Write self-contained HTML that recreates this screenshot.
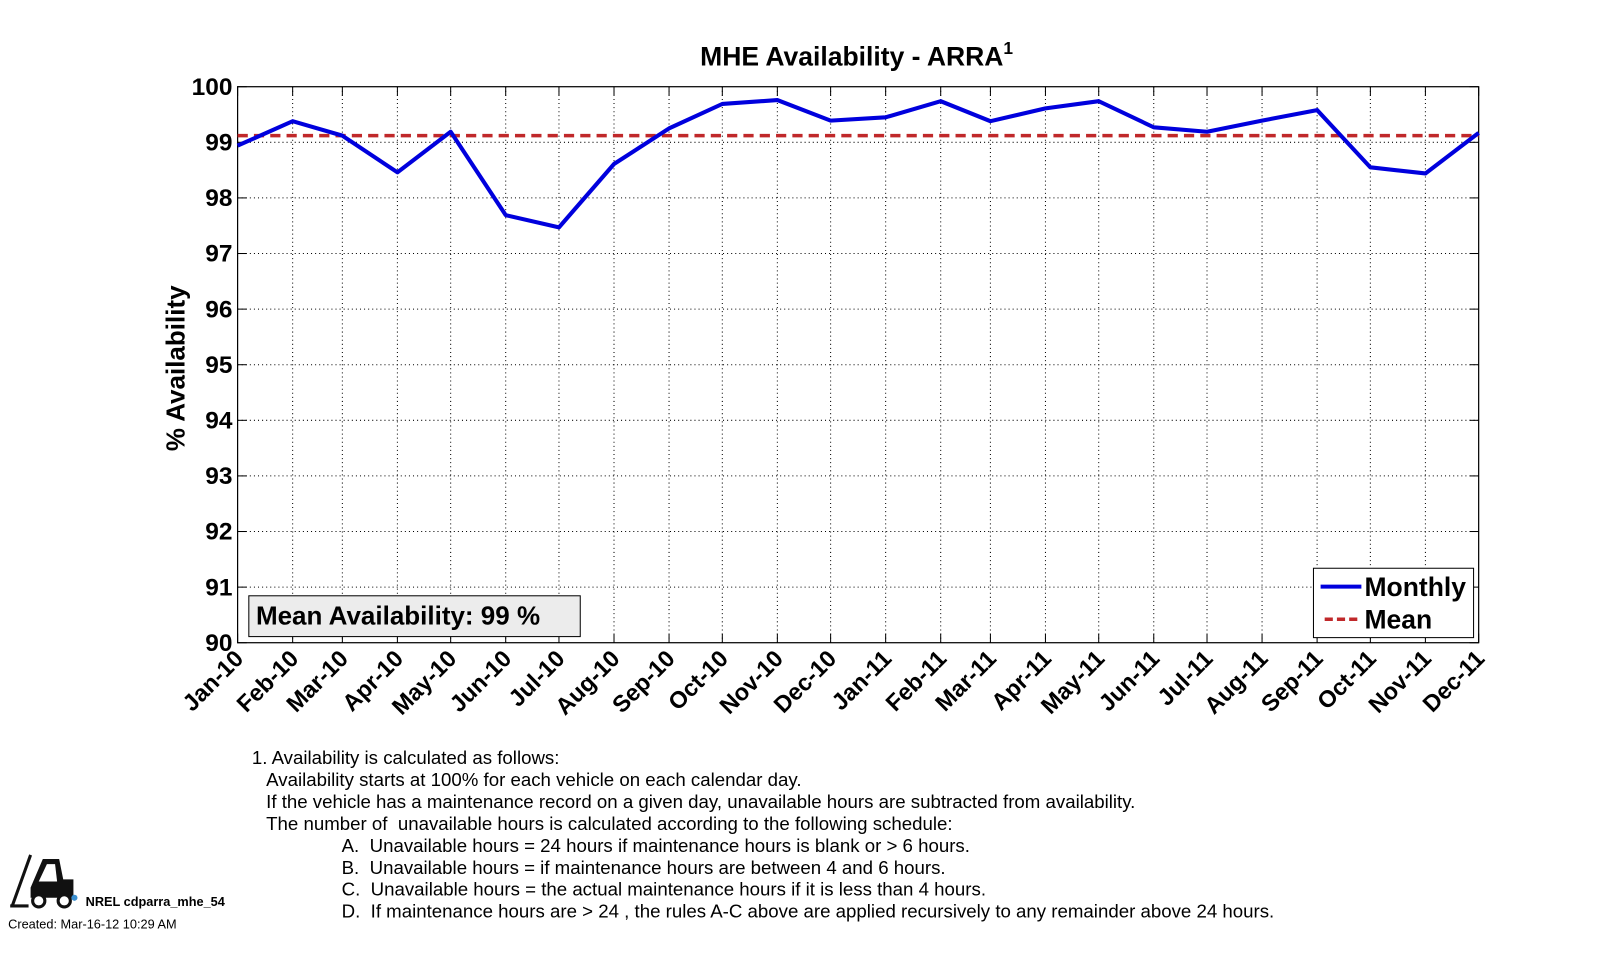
<!DOCTYPE html>
<html><head><meta charset="utf-8"><style>
html,body{margin:0;padding:0;background:#fff;}
svg{display:block;font-family:"Liberation Sans",Arial,sans-serif;}
</style></head><body>
<svg id="s" width="1599" height="960" viewBox="0 0 1568 941" preserveAspectRatio="none" xmlns="http://www.w3.org/2000/svg"></svg>
<script>
const L=233,R=1450,T=85,B=630;
const days=[0,31,59,90,120,151,181,212,243,273,304,334,365,396,424,455,485,516,546,577,608,638,669,699];
const names=["Jan-10","Feb-10","Mar-10","Apr-10","May-10","Jun-10","Jul-10","Aug-10","Sep-10","Oct-10","Nov-10","Dec-10","Jan-11","Feb-11","Mar-11","Apr-11","May-11","Jun-11","Jul-11","Aug-11","Sep-11","Oct-11","Nov-11","Dec-11"];
const vals=[98.94,99.38,99.12,98.46,99.19,97.69,97.47,98.61,99.25,99.69,99.76,99.39,99.45,99.74,99.38,99.61,99.74,99.27,99.19,99.39,99.58,98.55,98.44,99.17];
const X=d=>L+(R-L)*d/699, Y=v=>T+(100-v)*(B-T)/10;
let h='';
for(let i=1;i<23;i++){const x=X(days[i]);h+=`<line x1="${x}" y1="${T}" x2="${x}" y2="${B}" stroke="#000" stroke-width="1" stroke-dasharray="1,3"/>`;}
for(let v=91;v<100;v++){const y=Y(v);h+=`<line x1="${L}" y1="${y}" x2="${R}" y2="${y}" stroke="#000" stroke-width="1" stroke-dasharray="1,3"/>`;}
for(let i=0;i<24;i++){const x=X(days[i]);h+=`<line x1="${x}" y1="${B}" x2="${x}" y2="${B-9}" stroke="#000"/><line x1="${x}" y1="${T}" x2="${x}" y2="${T+9}" stroke="#000"/>`;
h+=`<text transform="translate(${x+7},${B+17}) rotate(-45)" text-anchor="end" font-size="23" font-weight="bold">${names[i]}</text>`;}
for(let v=90;v<=100;v++){const y=Y(v);h+=`<line x1="${L}" y1="${y}" x2="${L+9}" y2="${y}" stroke="#000"/><line x1="${R}" y1="${y}" x2="${R-9}" y2="${y}" stroke="#000"/>`;
h+=`<text x="${L-5}" y="${y+8}" text-anchor="end" font-size="24" font-weight="bold">${v}</text>`;}
h+=`<rect x="${L}" y="${T}" width="${R-L}" height="${B-T}" fill="none" stroke="#000" stroke-width="1.2"/>`;
h+=`<line x1="${L}" y1="${Y(99.12)}" x2="${R}" y2="${Y(99.12)}" stroke="#c0282a" stroke-width="3.5" stroke-dasharray="10,6"/>`;
h+=`<polyline fill="none" stroke="#0000dd" stroke-width="4" stroke-linejoin="round" points="${vals.map((v,i)=>X(days[i])+','+Y(v)).join(' ')}"/>`;
h+=`<rect x="244" y="584" width="325" height="40" fill="#ececec" stroke="#000"/><text x="251" y="612" font-size="25.5" font-weight="bold">Mean Availability: 99 %</text>`;
h+=`<rect x="1288" y="557" width="157" height="68" fill="#fff" stroke="#000"/>`;
h+=`<line x1="1295" y1="575" x2="1335" y2="575" stroke="#0000dd" stroke-width="4"/><text x="1338" y="584" font-size="26" font-weight="bold">Monthly</text>`;
h+=`<line x1="1299" y1="607" x2="1335" y2="607" stroke="#c0282a" stroke-width="3.5" stroke-dasharray="8,4"/><text x="1338" y="616" font-size="26" font-weight="bold">Mean</text>`;
h+=`<text x="840" y="64" text-anchor="middle" font-size="26" font-weight="bold">MHE Availability - ARRA<tspan dy="-11" font-size="17">1</tspan></text>`;
h+=`<text transform="translate(181,361) rotate(-90)" text-anchor="middle" font-size="25.5" font-weight="bold">% Availability</text>`;
const fn=[[247,"1. Availability is calculated as follows:"],[261,"Availability starts at 100% for each vehicle on each calendar day."],[261,"If the vehicle has a maintenance record on a given day, unavailable hours are subtracted from availability."],[261,"The number of  unavailable hours is calculated according to the following schedule:"],[335,"A.  Unavailable hours = 24 hours if maintenance hours is blank or &gt; 6 hours."],[335,"B.  Unavailable hours = if maintenance hours are between 4 and 6 hours."],[335,"C.  Unavailable hours = the actual maintenance hours if it is less than 4 hours."],[335,"D.  If maintenance hours are &gt; 24 , the rules A-C above are applied recursively to any remainder above 24 hours."]];
fn.forEach((f,i)=>{h+=`<text x="${f[0]}" y="${749+i*21.5}" font-size="18.3" xml:space="preserve">${f[1]}</text>`;});
h+=`<g fill="#111"><line x1="12" y1="888" x2="30" y2="838" stroke="#111" stroke-width="3"/><line x1="10" y1="888" x2="28" y2="888" stroke="#111" stroke-width="3"/>
<path d="M30 870 L42 842 L58 842 L62 862 L72 862 L72 880 L30 880 Z"/><path d="M38 864 L46 847 L54 847 L56 864 Z" fill="#fff"/>
<circle cx="38" cy="883" r="6" fill="#fff" stroke="#111" stroke-width="3"/><circle cx="63" cy="883" r="6" fill="#fff" stroke="#111" stroke-width="3"/>
<circle cx="73" cy="880" r="3" fill="#3a8fd0"/></g>`;
h+=`<text x="84" y="888" font-size="12.5" font-weight="bold">NREL cdparra_mhe_54</text>`;
h+=`<text x="8" y="910" font-size="12.5">Created: Mar-16-12 10:29 AM</text>`;
document.getElementById('s').innerHTML=h;
</script>
</body></html>
